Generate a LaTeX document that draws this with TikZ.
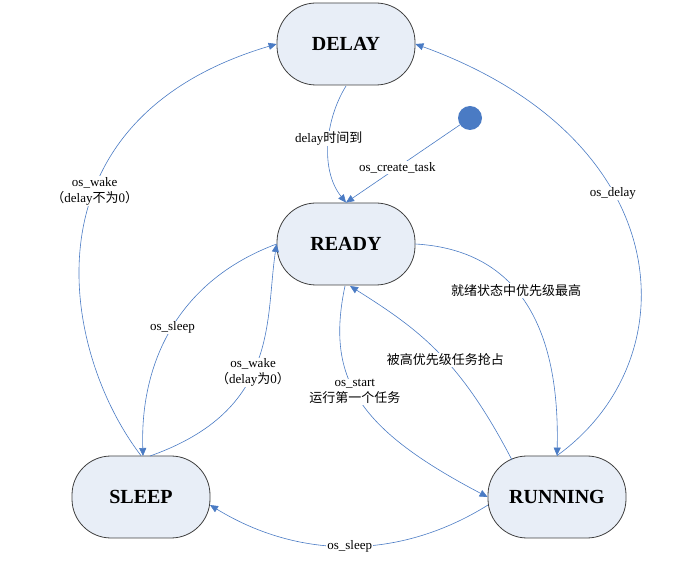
\documentclass[tikz,border=0pt]{standalone}
\usepackage{fontspec}
\setmainfont{Liberation Serif}
\newfontfamily\cjk{Noto Sans CJK SC}
\usetikzlibrary{arrows.meta}
\begin{document}
\begin{tikzpicture}[x=1pt,y=-1pt,
  st/.style={draw=black!75,fill={rgb,255:red,232;green,238;blue,247},rounded corners=39pt,minimum width=138pt,minimum height=82pt,font=\fontsize{20}{24}\selectfont\bfseries,line width=0.8pt},
  ar/.style={draw={rgb,255:red,74;green,123;blue,196},line width=0.6pt,-{Triangle[width=7pt,length=8pt]}},
  lb/.style={fill=white,inner sep=1pt,font=\fontsize{13}{16}\selectfont,align=center}]
\useasboundingbox (0,0) rectangle (689,561);
\node[st] (D) at (346,44) {DELAY};
\node[st] (R) at (346,244) {READY};
\node[st] (S) at (141,497) {SLEEP};
\node[st] (N) at (557,497) {RUNNING};
\node[circle,fill={rgb,255:red,74;green,123;blue,196},minimum size=24pt,inner sep=0] (dot) at (470,118) {};
\draw[ar] (346,86) .. controls (325,120) and (320,170) .. (R.north) node[lb,pos=0.45] {delay{\cjk 时间到}};
\draw[ar] (dot) -- (R.north) node[lb,pos=0.55] {os\_create\_task};
\draw[ar] (S.north) .. controls (60,350) and (20,120) .. (D.west) node[lb,pos=0.6] {os\_wake\\{\cjk （}delay{\cjk 不为}0{\cjk ）}};
\draw[ar] (N.north) .. controls (690,360) and (680,140) .. (D.east) node[lb,pos=0.62] {os\_delay};
\draw[ar] (R.east) .. controls (520,250) and (560,330) .. (N.north) node[lb,pos=0.43] {{\cjk 就绪状态中优先级最高}};
\draw[ar] (512,460) .. controls (460,360) and (420,330) .. (350,286) node[lb,pos=0.45] {{\cjk 被高优先级任务抢占}};
\draw[ar] (345,286) .. controls (325,380) and (360,430) .. (N.west) node[lb,pos=0.45] {os\_start\\{\cjk 运行第一个任务}};
\draw[ar] (R.west) .. controls (180,280) and (140,360) .. (143,456) node[lb,pos=0.5] {os\_sleep};
\draw[ar] (150,456) .. controls (280,410) and (265,320) .. (R.west) node[lb,pos=0.45] {os\_wake\\{\cjk （}delay{\cjk 为}0{\cjk ）}};
\draw[ar] (488,505) .. controls (400,560) and (300,560) .. (210,505) node[lb,pos=0.5] {os\_sleep};
\end{tikzpicture}
\end{document}
